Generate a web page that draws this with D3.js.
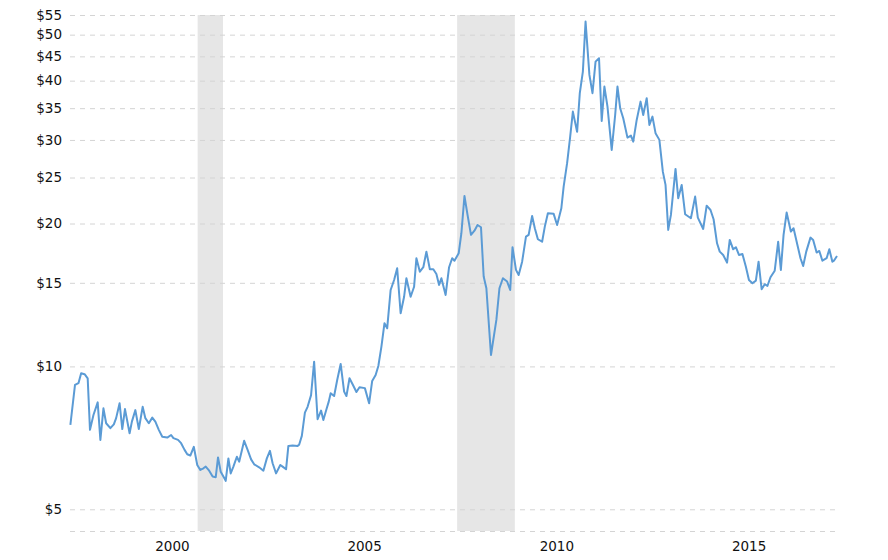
<!DOCTYPE html>
<html>
<head>
<meta charset="utf-8">
<script src="https://cdn.jsdelivr.net/npm/d3@7"></script>
<style>
  body { margin: 0; background: #fff; }
  .grid line { stroke: #d4d4d4; stroke-dasharray: 5,5; }
  .axis text { font-family: "DejaVu Sans", Verdana, sans-serif; font-size: 13.5px; fill: #111; }
</style>
</head>
<body>
<div id="chart"></div>
<script>
const FRAME_WIDTH = 888;
const FRAME_HEIGHT = 560;
const MARGINS = { left: 70, right: 51, top: 15, bottom: 29 };

// silver price (decimal year, $ per ounce)
const years = [1997.86,1997.98,1998.07,1998.14,1998.23,1998.31,1998.37,1998.46,1998.57,1998.64,
  1998.72,1998.79,1998.90,1998.99,1999.05,1999.14,1999.21,1999.28,1999.40,1999.46,
  1999.55,1999.64,1999.74,1999.81,1999.90,1999.99,2000.07,2000.16,2000.25,2000.38,
  2000.48,2000.54,2000.66,2000.74,2000.83,2000.90,2000.98,2001.07,2001.16,
  2001.24,2001.32,2001.38,2001.47,2001.56,2001.64,2001.70,2001.77,2001.84,2001.90,
  2001.97,2002.03,2002.10,2002.19,2002.25,2002.38,2002.47,2002.56,2002.64,2002.77,
  2002.88,2002.97,2003.05,2003.12,2003.21,2003.32,2003.38,2003.47,2003.53,2003.64,
  2003.77,2003.81,2003.88,2003.96,2004.03,2004.12,2004.20,2004.29,2004.38,2004.44,
  2004.53,2004.58,2004.63,2004.72,2004.80,2004.89,2004.98,2005.04,2005.12,2005.21,
  2005.30,2005.38,2005.52,2005.63,2005.71,2005.80,2005.87,2005.95,2006.03,2006.10,
  2006.19,2006.28,2006.36,2006.45,2006.54,2006.60,2006.71,2006.80,2006.86,2006.95,
  2007.04,2007.12,2007.21,2007.30,2007.38,2007.45,2007.51,2007.62,2007.71,2007.79,
  2007.85,2007.96,2008.03,2008.11,2008.19,2008.28,2008.37,2008.45,2008.54,2008.61,
  2008.68,2008.80,2008.94,2009.02,2009.11,2009.22,2009.30,2009.36,2009.45,2009.52,
  2009.61,2009.71,2009.78,2009.87,2009.94,2010.02,2010.13,2010.20,2010.28,2010.43,
  2010.52,2010.63,2010.69,2010.78,2010.86,2010.93,2011.04,2011.11,2011.19,2011.26,
  2011.36,2011.44,2011.52,2011.61,2011.68,2011.75,2011.83,2011.94,2012.03,2012.09,
  2012.16,2012.24,2012.35,2012.44,2012.50,2012.59,2012.69,2012.76,2012.85,2012.92,
  2013.00,2013.08,2013.18,2013.27,2013.34,2013.41,2013.48,2013.60,2013.67,2013.76,
  2013.85,2014.00,2014.11,2014.18,2014.32,2014.41,2014.51,2014.59,2014.68,2014.75,
  2014.84,2014.94,2015.01,2015.10,2015.17,2015.25,2015.34,2015.43,2015.51,2015.60,
  2015.69,2015.76,2015.84,2015.92,2015.99,2016.07,2016.18,2016.27,2016.34,2016.41,
  2016.49,2016.60,2016.67,2016.85,2016.92,2017.00,2017.11,2017.18,2017.27,2017.34,
  2017.42,2017.53,2017.60,2017.68,2017.72,2017.80];

const prices = [7.53,9.14,9.22,9.67,9.63,9.44,7.35,7.90,8.40,7.00,
  8.16,7.59,7.41,7.55,7.78,8.36,7.38,8.13,7.23,7.65,
  8.09,7.38,8.22,7.78,7.59,7.80,7.65,7.35,7.11,7.08,
  7.17,7.06,7.00,6.89,6.67,6.53,6.49,6.77,6.20,
  6.05,6.10,6.15,6.03,5.86,5.84,6.43,6.00,5.86,5.74,
  6.40,5.95,6.15,6.45,6.30,6.97,6.67,6.37,6.22,6.13,
  6.03,6.40,6.64,6.25,5.95,6.20,6.15,6.07,6.80,6.81,
  6.80,6.84,7.14,7.99,8.22,8.70,10.23,7.74,8.07,7.71,
  8.17,8.43,8.78,8.66,9.36,10.12,8.85,8.66,9.44,9.14,
  8.83,9.04,9.00,8.36,9.32,9.59,10.02,11.01,12.33,12.03,
  14.49,15.21,16.10,12.94,14.02,15.34,14.02,14.72,16.90,15.83,
  16.18,17.45,16.02,16.02,15.66,14.85,15.34,14.14,16.18,16.90,
  16.70,17.31,19.08,22.86,20.85,18.93,19.32,19.86,19.64,15.46,
  14.61,10.57,12.53,14.61,15.34,15.09,14.49,17.83,15.97,15.58,
  16.62,18.77,18.93,20.75,19.55,18.53,18.31,19.70,21.03,20.96,
  19.86,21.54,23.92,26.80,30.49,34.42,31.20,37.64,41.79,53.27,
  41.13,37.64,43.87,44.60,32.90,38.86,35.26,28.58,33.86,38.86,
  34.99,33.33,30.34,30.64,29.76,33.06,36.13,33.86,36.73,32.27,
  33.59,31.00,30.01,25.72,24.12,19.39,20.85,26.07,22.61,24.12,
  20.92,20.52,22.79,20.58,19.48,21.81,21.36,20.42,18.17,17.45,
  17.17,16.54,18.47,17.65,17.83,17.17,17.25,16.22,15.21,14.97,
  15.16,16.62,14.54,14.90,14.77,15.41,15.91,18.31,15.97,18.93,
  21.09,19.23,19.55,16.90,16.28,17.45,18.68,18.47,17.37,17.51,
  16.70,16.90,17.65,16.62,16.70,17.09];

// recessions (start, end as decimal year)
const recessionStart = [2001.17, 2007.92];
const recessionEnd = [2001.83, 2009.42];

const yTicks = [5, 10, 15, 20, 25, 30, 35, 40, 45, 50, 55];
const yMin = 4.5;
const xTickYears = [2000, 2005, 2010, 2015];

const VIS_WIDTH = FRAME_WIDTH - MARGINS.left - MARGINS.right;
const VIS_HEIGHT = FRAME_HEIGHT - MARGINS.top - MARGINS.bottom;

const FRAME = d3.select("#chart")
  .append("svg")
  .attr("width", FRAME_WIDTH)
  .attr("height", FRAME_HEIGHT);

const X_SCALE = d3.scaleLinear()
  .domain([1997.85, 2017.8])
  .range([MARGINS.left, MARGINS.left + VIS_WIDTH]);

const Y_SCALE = d3.scaleLog()
  .domain([yMin, 55])
  .range([MARGINS.top + VIS_HEIGHT, MARGINS.top]);

// recession bands
FRAME.selectAll(".band")
  .data(recessionStart)
  .enter()
  .append("rect")
  .attr("x", (d) => X_SCALE(d))
  .attr("width", (d, i) => X_SCALE(recessionEnd[i]) - X_SCALE(d))
  .attr("y", Y_SCALE(55))
  .attr("height", Y_SCALE(yMin) - Y_SCALE(55))
  .attr("fill", "#e6e6e6");

// dashed gridlines
FRAME.append("g")
  .attr("class", "grid")
  .attr("transform", "translate(" + MARGINS.left + ",0)")
  .call(d3.axisLeft(Y_SCALE).tickValues([yMin].concat(yTicks)).tickSize(-VIS_WIDTH).tickFormat(""))
  .call((g) => g.select(".domain").remove());

// y labels
FRAME.append("g")
  .attr("class", "axis")
  .attr("transform", "translate(" + MARGINS.left + ",0)")
  .call(d3.axisLeft(Y_SCALE).tickValues(yTicks).tickSize(0).tickPadding(8).tickFormat((d) => "$" + d))
  .call((g) => g.select(".domain").remove());

// x labels sit in the middle of each year
FRAME.append("g")
  .attr("class", "axis")
  .attr("transform", "translate(0," + (MARGINS.top + VIS_HEIGHT) + ")")
  .call(d3.axisBottom(X_SCALE).tickValues(xTickYears.map((d) => d + 0.5)).tickSize(0).tickPadding(10)
    .tickFormat((d) => Math.floor(d)))
  .call((g) => g.select(".domain").remove());

const line = d3.line()
  .x((d, i) => X_SCALE(years[i]))
  .y((d) => Y_SCALE(d));

FRAME.append("path")
  .datum(prices)
  .attr("d", line)
  .attr("fill", "none")
  .attr("stroke", "#5b9bd5")
  .attr("stroke-width", 2)
  .attr("stroke-linejoin", "round");
</script>
</body>
</html>
